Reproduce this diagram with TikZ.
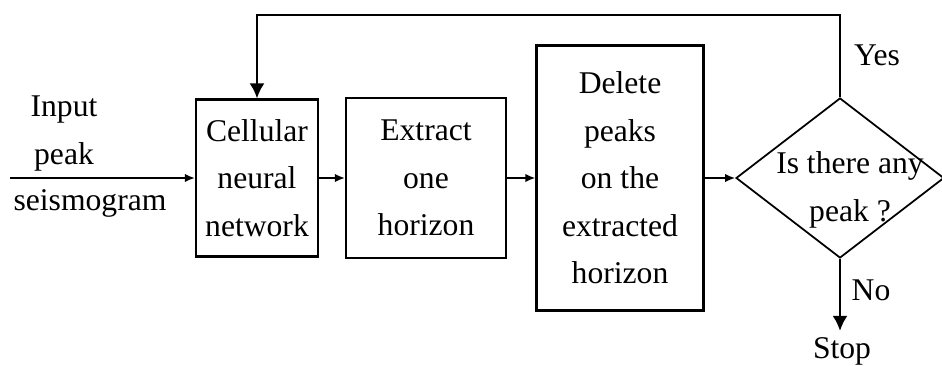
\documentclass[tikz,border=0pt]{standalone}
\usepackage{fontspec}
\setmainfont{Liberation Serif}
\usetikzlibrary{shapes.geometric,arrows,arrows.meta,positioning}

\begin{document}
\begin{tikzpicture}[x=0.02cm,y=-0.02cm,font=\fontsize{18}{27}\selectfont,
  block/.style={draw, line width=1.3pt, align=center, inner sep=0pt},
  flow/.style={line width=1pt, -{Latex[length=0.2cm,width=0.17cm]}},
  bigflow/.style={line width=1.2pt, -{Latex[length=0.3cm,width=0.3cm]}}]
  \useasboundingbox (0,0) rectangle (942,365);
  % Blocks
  \node[block, minimum width=2.44cm, minimum height=3.14cm] (cnn) at (257,178) {Cellular\\neural\\network};
  \node[block, minimum width=3.2cm, minimum height=3.2cm] (extract) at (426,178) {Extract\\one\\horizon};
  \node[block, minimum width=3.34cm, minimum height=5.3cm] (delete) at (620,178) {Delete\\peaks\\on the\\extracted\\horizon};
  \node[diamond, draw, line width=1pt, minimum width=4.16cm, minimum height=3.2cm, inner sep=0pt,
    label={[align=center, xshift=0.2cm, yshift=-0.24cm]center:Is there any\\peak ?}] (dec) at (840,178) {};
  % Input text
  \node (in1) at (64,110) {Input};
  \node (in2) at (64,157) {peak};
  \node (in3) at (90,203) {seismogram};
  \coordinate (start) at (10,178);
  \coordinate (top) at (0,15);
  % Outcomes
  \node (yes) at (877,55) {Yes};
  \node (no) at (871,290) {No};
  \node[anchor=base] (stop) at (842,358) {Stop};
  %
  % Edges
  \draw[flow] (start) -- (cnn);
  \draw[flow] (cnn) -- (extract);
  \draw[flow] (extract) -- (delete);
  \draw[flow] (delete) -- (dec);
  \draw[bigflow] (dec.north) -- (dec.north |- top) -| (cnn.north);
  \draw[bigflow] (dec.south) -- (dec.south |- stop.north);
\end{tikzpicture}
\end{document}
